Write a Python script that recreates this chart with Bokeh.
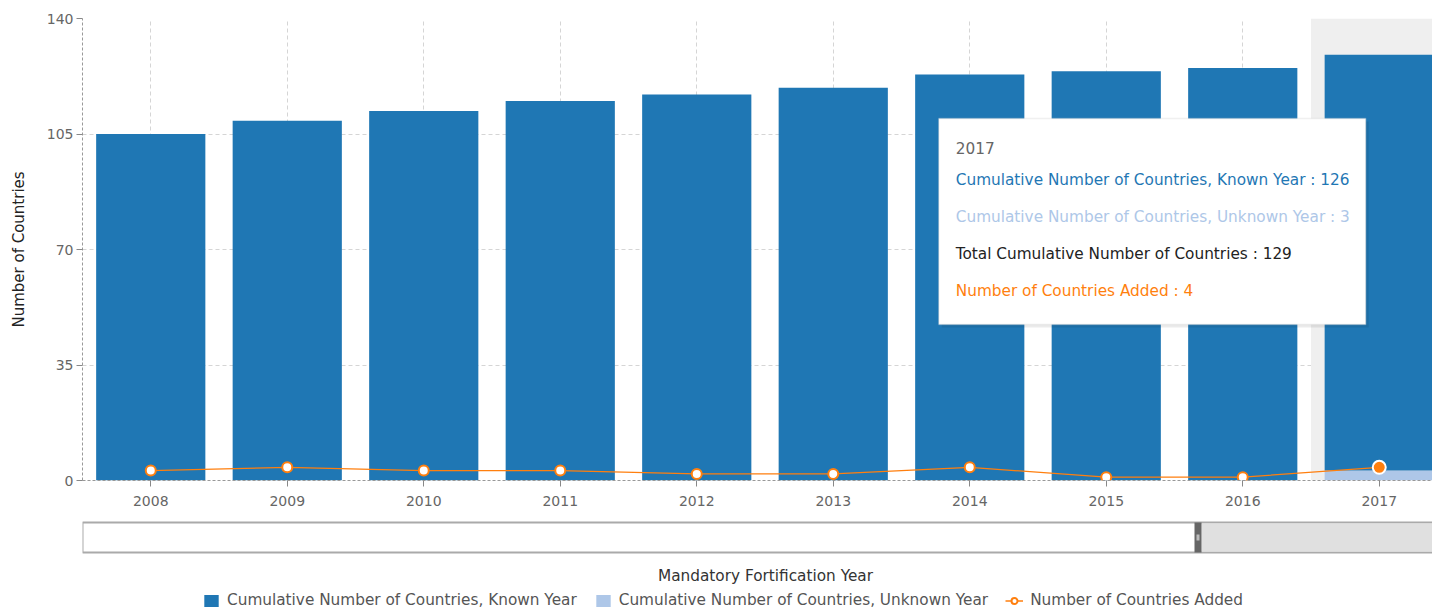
from bokeh.plotting import figure
from bokeh.models import (Range1d, FixedTicker, ColumnDataSource, BoxAnnotation, Label,
                          Legend, LegendItem, CDSView, IndexFilter)
from bokeh.core.properties import value
from bokeh.layouts import column
from bokeh.embed import file_html
from bokeh.resources import INLINE

# ---------------- data ----------------
years = [2008, 2009, 2010, 2011, 2012, 2013, 2014, 2015, 2016, 2017]
known = [105, 109, 112, 115, 117, 119, 123, 124, 125, 126]
unknown = [0, 0, 0, 0, 0, 0, 0, 0, 0, 3]
added = [3, 4, 3, 3, 2, 2, 4, 1, 1, 4]
y_ticks = [0, 35, 70, 105, 140]
hover_index = 9

FONT = "DejaVu Sans"
BLUE = "#1f77b4"
LIGHT = "#aec7e8"
ORANGE = "#ff7f0e"

src = ColumnDataSource(dict(year=years, known=known, unknown=unknown, added=added))

W = 1432
H1 = 514
STEP = 136.5  # pixels per category in the visible window
p = figure(width=W, height=H1, output_backend="svg", toolbar_location=None,
           x_range=Range1d(2007.5, 2007.5 + 1350 / STEP), y_range=Range1d(0, 140),
           min_border_left=82, min_border_right=0, min_border_top=18, min_border_bottom=34)
p.outline_line_color = None

# hover band
hy = years[hover_index]
p.add_layout(BoxAnnotation(left=hy - 0.5, right=hy + 0.5, fill_color="#efefef", fill_alpha=1,
                           line_color=None, level="underlay"))

p.vbar_stack(["unknown", "known"], x="year", width=0.8, source=src,
             color=[LIGHT, BLUE], line_color=None)

p.line("year", "added", source=src, color=ORANGE, line_width=1.2)
p.scatter("year", "added", source=src, size=10, fill_color="white", line_color=ORANGE, line_width=2)
p.scatter("year", "added", source=src, view=CDSView(filter=IndexFilter([hover_index])),
          size=13, fill_color=ORANGE, line_color="white", line_width=2)

# axes
p.yaxis.ticker = FixedTicker(ticks=y_ticks)
p.xaxis.ticker = FixedTicker(ticks=years)
p.xaxis.major_label_overrides = {y: str(y) for y in years}
for ax in (p.xaxis[0], p.yaxis[0]):
    ax.axis_line_color = "#999"
    ax.axis_line_dash = "3 2"
    ax.major_tick_line_color = "#888"
    ax.major_tick_out = 6
    ax.major_tick_in = 0
    ax.minor_tick_line_color = None
    ax.major_label_text_font = FONT
    ax.major_label_text_font_size = "14px"
    ax.major_label_text_color = "#666"
p.xaxis.major_label_standoff = 9
p.yaxis.major_label_standoff = 3
p.yaxis.axis_label = "Number of Countries"
p.yaxis.axis_label_text_font = FONT
p.yaxis.axis_label_text_font_size = "15px"
p.yaxis.axis_label_text_font_style = "normal"
p.yaxis.axis_label_text_color = "#222"
p.yaxis.axis_label_standoff = 16

p.xgrid.ticker = FixedTicker(ticks=years)
for g in (p.xgrid[0], p.ygrid[0]):
    g.grid_line_color = "#d5d5d5"
    g.grid_line_dash = "4 3"

# tooltip (pixel geometry converted to data coords)
def dx(px):
    return years[0] + (px - 150) / STEP

def dy(py):
    return (480 - py) / 3.3

p.add_layout(BoxAnnotation(left=dx(941), right=dx(1368), top=dy(121), bottom=dy(327),
                           fill_color="#000000", fill_alpha=0.08, line_color=None))
p.add_layout(BoxAnnotation(left=dx(938), right=dx(1365), top=dy(118), bottom=dy(324),
                           fill_color="white", fill_alpha=1, line_color="#cccccc", line_width=1.5))
total = known[hover_index] + unknown[hover_index]
tip_lines = [
    (str(hy), "#666666", 147),
    ("Cumulative Number of Countries, Known Year : %d" % known[hover_index], BLUE, 179),
    ("Cumulative Number of Countries, Unknown Year : %d" % unknown[hover_index], LIGHT, 216),
    ("Total Cumulative Number of Countries : %d" % total, "#222222", 253),
    ("Number of Countries Added : %d" % added[hover_index], ORANGE, 290),
]
for txt, col, py in tip_lines:
    p.add_layout(Label(x=dx(955), y=dy(py), text=txt, text_color=col, text_font=FONT,
                       text_font_size="15.3px", text_baseline="middle", text_align="left"))

# ---------------- bottom: navigator, axis title, legend ----------------
H2 = 96
# x range in page pixels (frame aligned with the main plot: 82..1432)
p2 = figure(width=W, height=H2, output_backend="svg", toolbar_location=None,
            x_range=Range1d(82, 1432), y_range=Range1d(H2, 0),
            x_axis_type=None, y_axis_type=None,
            min_border_left=82, min_border_right=0, min_border_top=0, min_border_bottom=0)
p2.outline_line_color = None
p2.xgrid.visible = False
p2.ygrid.visible = False

p2.quad(left=[82], right=[1440], top=[8], bottom=[38], fill_color="white", line_color="#aaaaaa", line_width=2)
p2.quad(left=[1201], right=[1440], top=[9], bottom=[37], fill_color="#e0e0e0", line_color=None)
p2.quad(left=[1194], right=[1201], top=[8], bottom=[38], fill_color="#666666", line_color=None)
p2.quad(left=[1196], right=[1199], top=[20], bottom=[26], fill_color="#bbbbbb", line_color=None)

p2.text(x=[765], y=[61], text=["Mandatory Fortification Year"], text_font_size="15.3px",
        text_color="#333333", text_align="center", text_baseline="middle",
        text_font=value(FONT))

# legend swatches (off-view placeholders, only their legend glyphs are seen)
r_known = p2.quad(left=[-100], right=[-90], top=[0], bottom=[1], fill_color=BLUE, line_color=None)
r_unknown = p2.quad(left=[-100], right=[-90], top=[0], bottom=[1], fill_color=LIGHT, line_color=None)
r_line = p2.line(x=[-100, -90], y=[0, 0], color=ORANGE, line_width=1.5)
r_pt = p2.scatter(x=[-100], y=[0], size=8, fill_color="white", line_color=ORANGE, line_width=2)

legend = Legend(items=[
    LegendItem(label="Cumulative Number of Countries, Known Year", renderers=[r_known]),
    LegendItem(label="Cumulative Number of Countries, Unknown Year", renderers=[r_unknown]),
    LegendItem(label="Number of Countries Added", renderers=[r_line, r_pt]),
], orientation="horizontal", location=(120, 1), padding=0, margin=0, spacing=17,
    glyph_width=18, glyph_height=15, label_height=15, label_standoff=7,
    background_fill_alpha=0, border_line_color=None,
    label_text_font=FONT, label_text_font_size="15.3px", label_text_color="#555555")
p2.add_layout(legend)

layout = column(p, p2, spacing=0)
open("out.html", "w").write(file_html(layout, INLINE))
